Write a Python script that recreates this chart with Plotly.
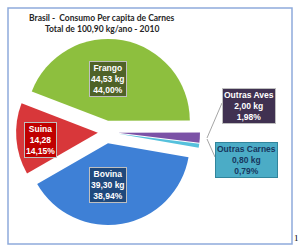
import plotly.graph_objects as go

categories = ["Frango", "Outras Aves", "Outras Carnes", "Bovina", "Suina"]
kg_values = [44.53, 2.00, 0.80, 39.30, 14.28]
kg_labels = ["44,53 kg", "2,00 kg", "0,80 kg", "39,30 kg", "14,28"]
pct_labels = ["44,00%", "1,98%", "0,79%", "38,94%", "14,15%"]

slice_colors = ["#8DBF3E", "#7B52A6", "#56C1DC", "#3E80D6", "#D8373A"]
box_colors = ["#4F6228", "#403151", "#4BACC6", "#1F497D", "#C00000"]
text_colors = ["white", "white", "#17375E", "white", "white"]
pulls = [0.14, 0.15, 0.15, 0.14, 0.10]

# label box positions (paper coords) per category
label_pos = {
    "Frango": (108 / 299, 1 - 79 / 251),
    "Outras Aves": (249 / 299, 1 - 106 / 251),
    "Outras Carnes": (246 / 299, 1 - 160 / 251),
    "Bovina": (108 / 299, 1 - 185 / 251),
    "Suina": (40 / 299, 1 - 140 / 251),
}

fig = go.Figure()
fig.add_trace(go.Pie(
    labels=categories,
    values=kg_values,
    sort=False,
    direction="clockwise",
    rotation=-69,
    pull=pulls,
    marker=dict(colors=slice_colors, line=dict(width=0)),
    textinfo="none",
    hoverinfo="label+value",
    showlegend=False,
    domain=dict(x=[12 / 299, 200 / 299], y=[1 - 226 / 251, 1 - 38 / 251]),
))

annotations = []
for i, c in enumerate(categories):
    x, y = label_pos[c]
    annotations.append(dict(
        x=x, y=y, xref="paper", yref="paper",
        text=f"<b>{c}<br>{kg_labels[i]}<br>{pct_labels[i]}</b>",
        showarrow=False,
        font=dict(family="Liberation Sans", size=8.5, color=text_colors[i]),
        bgcolor=box_colors[i],
        bordercolor="#BFBFBF" if i != 2 else "#31859C",
        borderwidth=1,
        borderpad=1,
        align="center",
        xanchor="center", yanchor="middle",
    ))

annotations += [
    dict(x=102 / 299, y=1 - 18 / 251, xref="paper", yref="paper",
         text="<b>Brasil -  Consumo Per capita de Carnes</b>", showarrow=False,
         font=dict(family="Lato", size=8.5, color="#262626"),
         xanchor="center", yanchor="middle"),
    dict(x=102 / 299, y=1 - 29 / 251, xref="paper", yref="paper",
         text="<b>Total de 100,90 kg/ano - 2010</b>", showarrow=False,
         font=dict(family="Lato", size=8.5, color="#262626"),
         xanchor="center", yanchor="middle"),
    dict(x=296 / 299, y=1 - 238 / 251, xref="paper", yref="paper",
         text="1", showarrow=False,
         font=dict(family="Liberation Serif", size=9, color="black"),
         xanchor="center", yanchor="middle"),
]

shapes = [
    dict(type="rect", xref="paper", yref="paper",
         x0=8 / 299, x1=292 / 299, y0=1 - 244 / 251, y1=1 - 8 / 251,
         line=dict(color="#8EAADB", width=1.5)),
    dict(type="line", xref="paper", yref="paper",
         x0=207 / 299, y0=1 - 138 / 251, x1=222 / 299, y1=1 - 103 / 251,
         line=dict(color="#A6A6A6", width=1)),
    dict(type="line", xref="paper", yref="paper",
         x0=207 / 299, y0=1 - 139 / 251, x1=215 / 299, y1=1 - 157 / 251,
         line=dict(color="#A6A6A6", width=1)),
]

fig.update_layout(
    width=299, height=251,
    margin=dict(l=0, r=0, t=0, b=0),
    paper_bgcolor="white", plot_bgcolor="white",
    annotations=annotations, shapes=shapes,
)

fig.write_html("out.html")
